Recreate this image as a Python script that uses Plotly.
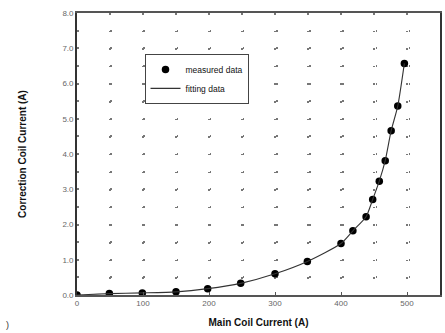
import plotly.graph_objects as go

main_current = [0, 49, 99, 150, 198, 248, 300, 349, 400, 418, 438, 448, 458, 467, 476, 486, 496]
corr_current = [0.0, 0.04, 0.06, 0.09, 0.18, 0.33, 0.60, 0.95, 1.46, 1.82, 2.22, 2.71, 3.23, 3.81, 4.66, 5.36, 6.57]

x_ticks = [0, 100, 200, 300, 400, 500]
y_ticks = [0, 1, 2, 3, 4, 5, 6, 7, 8]

fig = go.Figure()
fig.add_trace(go.Scatter(
    x=main_current, y=corr_current, mode="markers", name="measured data",
    marker=dict(color="black", size=7.5),
))
fig.add_trace(go.Scatter(
    x=main_current, y=corr_current, mode="lines", name="fitting data",
    line=dict(color="#333333", width=1.1, shape="spline", smoothing=0.6),
))

font_family = "Liberation Sans, Arial, sans-serif"

fig.update_layout(
    width=445, height=333,
    margin=dict(l=77, r=3, t=13, b=38),
    paper_bgcolor="white", plot_bgcolor="white",
    font=dict(family=font_family, color="#222"),
    showlegend=True,
    legend=dict(
        x=0.186, y=0.855, xanchor="left", yanchor="top",
        bgcolor="white", bordercolor="#444", borderwidth=1,
        font=dict(size=8.5, color="#111", family=font_family),
        itemwidth=30, tracegroupgap=0,
    ),
    xaxis=dict(
        range=[0, 550], tickvals=x_ticks, ticktext=[str(v) for v in x_ticks],
        showline=True, mirror=True, linecolor="#555", linewidth=1.5,
        ticks="inside", ticklen=3, tickcolor="#555",
        showgrid=True, gridcolor="#777", gridwidth=1.5, griddash="1.5px,16.125px",
        minor=dict(dtick=50, showgrid=True, gridcolor="#777", gridwidth=1.5, griddash="1.5px,16.125px"),
        tickfont=dict(size=8, color="#666"),
        zeroline=False,
        title=dict(text="<b>Main Coil Current (A)</b>", font=dict(size=10, color="#111"), standoff=12),
    ),
    yaxis=dict(
        range=[0, 8], tickvals=y_ticks, tickformat=".1f",
        showline=True, mirror=True, linecolor="#333", linewidth=1.8,
        ticks="",
        showgrid=True, gridcolor="#777", gridwidth=1.5, griddash="1.5px,31.68px",
        minor=dict(dtick=0.5, showgrid=True, gridcolor="#777", gridwidth=1.5, griddash="1.5px,31.68px"),
        tickfont=dict(size=8, color="#666"),
        zeroline=False,
        title=dict(text="<b>Correction Coil Current (A)</b>", font=dict(size=10, color="#111"), standoff=34),
    ),
)

fig.add_annotation(x=0, y=0, xref="paper", yref="paper", text=")", showarrow=False,
                   xshift=-73, yshift=-37, font=dict(size=9, color="#333"))

fig.write_html("out.html")
